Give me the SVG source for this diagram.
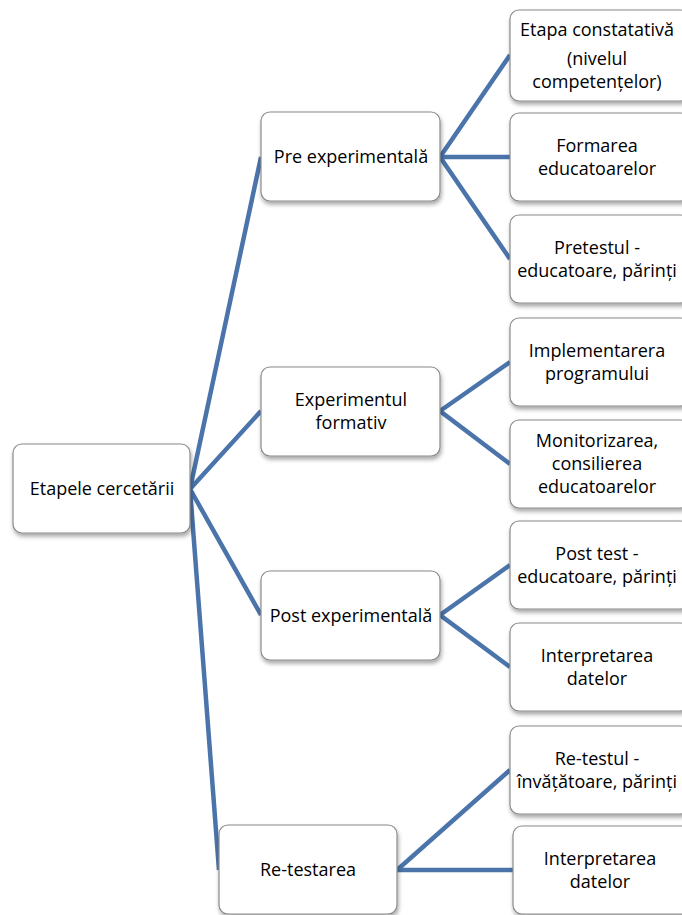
<svg xmlns="http://www.w3.org/2000/svg" width="682" height="915" viewBox="0 0 682 915">
<style>
.box{fill:#fff;stroke:#8a8a8a;stroke-width:1.2;filter:url(#sh)}
.t{font-family:"Open Sans","Liberation Sans",Arial,sans-serif;font-size:18px;fill:#000;text-anchor:middle}
.c{fill:none;stroke:#4a74aa;stroke-width:4.5;stroke-linecap:butt}
</style>
<defs>
<filter id="sh" x="-10%" y="-10%" width="130%" height="140%">
<feDropShadow dx="1" dy="3" stdDeviation="2" flood-color="#000" flood-opacity="0.35"/>
</filter>
</defs>
<rect width="682" height="915" fill="#fff"/>
<g id="connectors">
<path class="c" d="M190,489 L261,157 M190,489 L261,411 M190,489 L261,615 M190,489 L219,870"/>
<path class="c" d="M510,55 L440,157 L510,259 M440,157 L510,157"/>
<path class="c" d="M510,362 L440,411 L510,464"/>
<path class="c" d="M510,565 L440,615 L510,667"/>
<path class="c" d="M510,770 L397,870 L513,870"/>
</g>
<g id="n0"><rect class="box" x="13" y="444" width="177" height="89" rx="9"/><text class="t" x="102" y="495">Etapele cercetării</text></g>
<g id="n1"><rect class="box" x="261" y="112" width="179" height="89" rx="9"/><text class="t" x="351" y="163">Pre experimentală</text></g>
<g id="n2"><rect class="box" x="261" y="367" width="179" height="89" rx="9"/><text class="t" x="351" y="406">Experimentul</text><text class="t" x="351" y="429">formativ</text></g>
<g id="n3"><rect class="box" x="261" y="571" width="179" height="89" rx="9"/><text class="t" x="351" y="622">Post experimentală</text></g>
<g id="n4"><rect class="box" x="219" y="825" width="178" height="89" rx="9"/><text class="t" x="308" y="876">Re-testarea</text></g>
<g id="n5"><rect class="box" x="510" y="10" width="180" height="91" rx="9"/><text class="t" x="597" y="36">Etapa constatativă</text><text class="t" x="597" y="65">(nivelul</text><text class="t" x="597" y="88">competențelor)</text></g>
<g id="n6"><rect class="box" x="510" y="113" width="180" height="88" rx="9"/><text class="t" x="597" y="152">Formarea</text><text class="t" x="597" y="175">educatoarelor</text></g>
<g id="n7"><rect class="box" x="510" y="215" width="180" height="88" rx="9"/><text class="t" x="597" y="254">Pretestul -</text><text class="t" x="597" y="277">educatoare, părinți</text></g>
<g id="n8"><rect class="box" x="510" y="318" width="180" height="88" rx="9"/><text class="t" x="597" y="357">Implementarera</text><text class="t" x="597" y="380">programului</text></g>
<g id="n9"><rect class="box" x="510" y="420" width="180" height="88" rx="9"/><text class="t" x="597" y="447">Monitorizarea,</text><text class="t" x="597" y="470">consilierea</text><text class="t" x="597" y="493">educatoarelor</text></g>
<g id="n10"><rect class="box" x="510" y="521" width="180" height="88" rx="9"/><text class="t" x="597" y="560">Post test -</text><text class="t" x="597" y="583">educatoare, părinți</text></g>
<g id="n11"><rect class="box" x="510" y="623" width="180" height="88" rx="9"/><text class="t" x="597" y="662">Interpretarea</text><text class="t" x="597" y="685">datelor</text></g>
<g id="n12"><rect class="box" x="510" y="726" width="180" height="88" rx="9"/><text class="t" x="597" y="765">Re-testul -</text><text class="t" x="597" y="788">învățătoare, părinți</text></g>
<g id="n13"><rect class="box" x="513" y="826" width="180" height="88" rx="9"/><text class="t" x="600" y="865">Interpretarea</text><text class="t" x="600" y="888">datelor</text></g>
</svg>
